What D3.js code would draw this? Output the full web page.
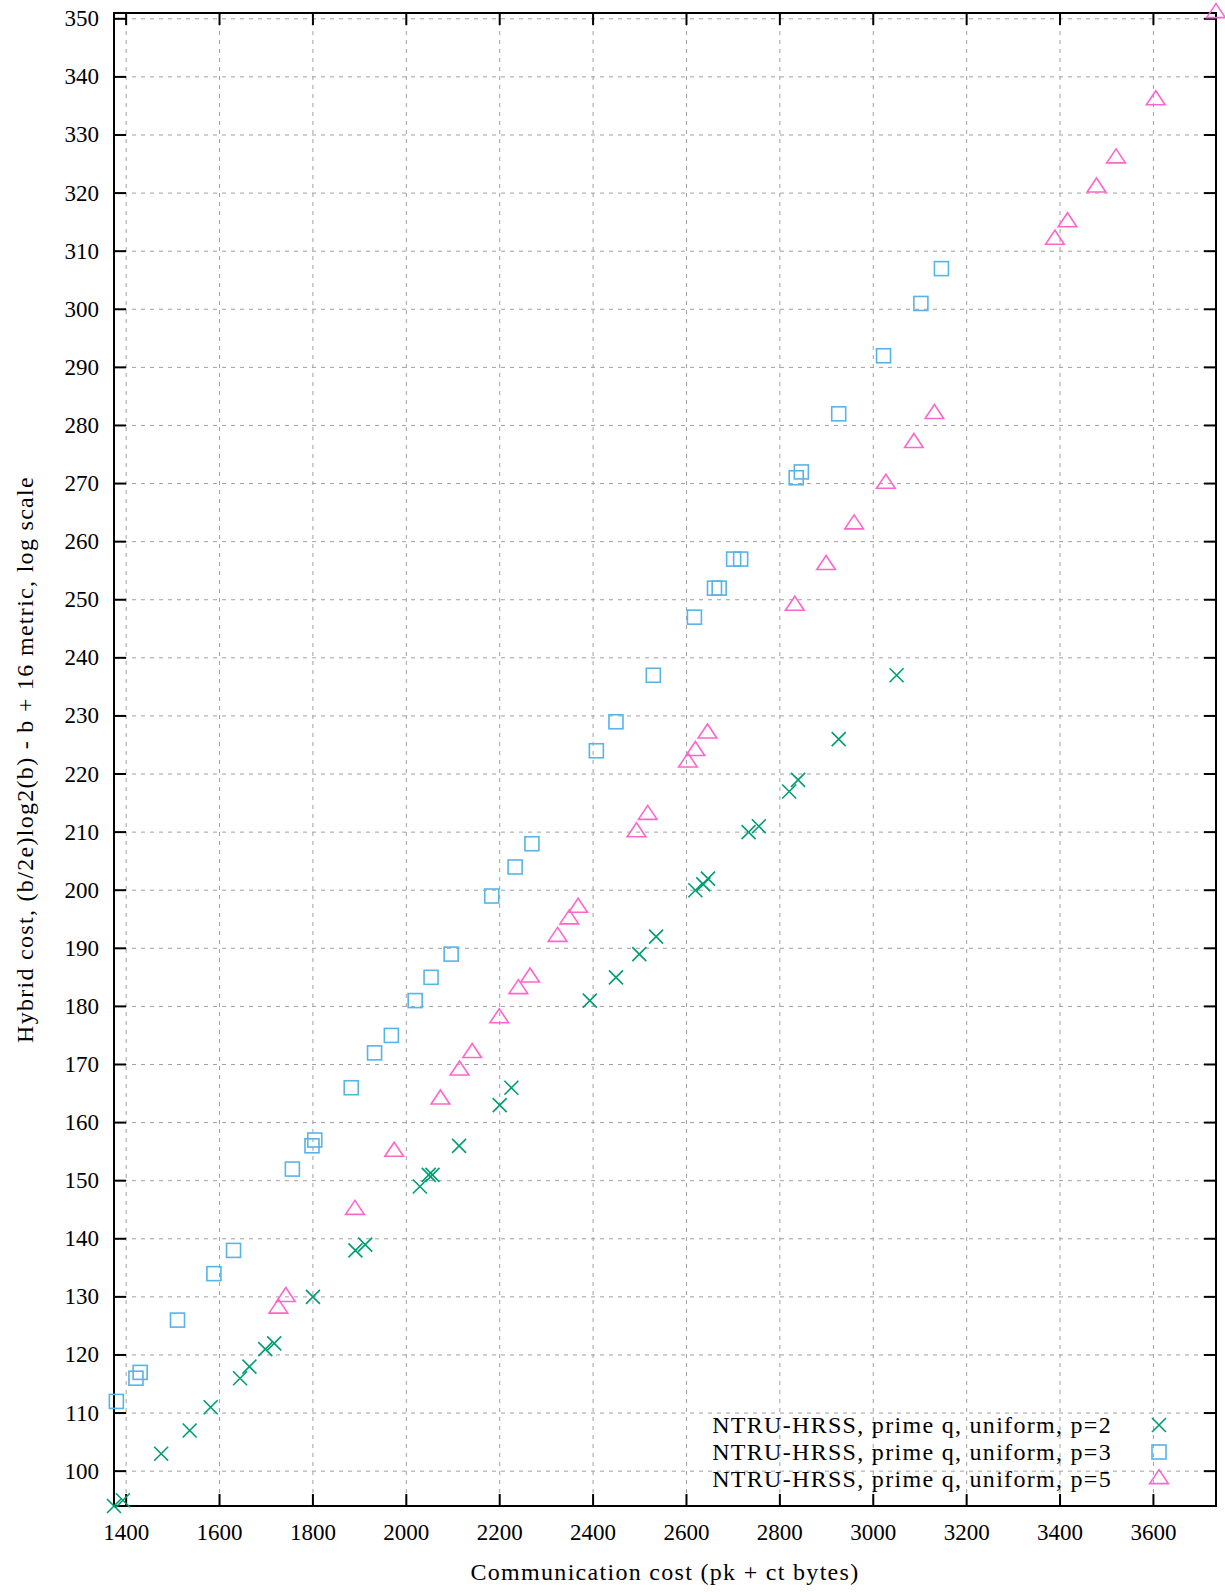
<!DOCTYPE html>
<html>
<head>
<meta charset="utf-8">
<title>Hybrid cost vs communication cost</title>
<script src="https://cdn.jsdelivr.net/npm/d3@7"></script>
<style>
    body { margin: 0; background: white; }
    svg { font-family: "Liberation Serif", "Times New Roman", serif; }
    .grid line { stroke: #a0a0a0; stroke-width: 1; stroke-dasharray: 4,5; }
    .border { fill: none; stroke: black; stroke-width: 2; }
    .tick-mark { stroke: black; stroke-width: 2; }
    .ticklabel { font-size: 23px; fill: black; }
    .title { font-size: 24px; fill: black; letter-spacing: 1.3px; }
</style>
</head>
<body>
<div id="chart"></div>
<script>
// p=2 series: communication cost (bytes), hybrid cost
var p2Cost   = [1374, 1393, 1475, 1536, 1581, 1644, 1664, 1698, 1717, 1800, 1891, 1912, 2029, 2048, 2056, 2113, 2200, 2225, 2393, 2449, 2499, 2535, 2619, 2636, 2646, 2733, 2755, 2820, 2839, 2926, 3050];
var p2Hybrid = [94, 95, 103, 107, 111, 116, 118, 121, 122, 130, 138, 139, 149, 151, 151, 156, 163, 166, 181, 185, 189, 192, 200, 201, 202, 210, 211, 217, 219, 226, 237];

// p=3 series
var p3Cost   = [1379, 1421, 1430, 1510, 1588, 1630, 1756, 1798, 1804, 1882, 1932, 1968, 2019, 2053, 2096, 2183, 2233, 2269, 2407, 2449, 2529, 2617, 2660, 2670, 2701, 2716, 2835, 2846, 2926, 3022, 3102, 3146];
var p3Hybrid = [112, 116, 117, 126, 134, 138, 152, 156, 157, 166, 172, 175, 181, 185, 189, 199, 204, 208, 224, 229, 237, 247, 252, 252, 257, 257, 271, 272, 282, 292, 301, 307];

// p=5 series
var p5Cost   = [1726, 1742, 1890, 1974, 2073, 2114, 2141, 2199, 2240, 2265, 2324, 2349, 2368, 2493, 2517, 2603, 2619, 2645, 2832, 2899, 2959, 3027, 3087, 3131, 3389, 3416, 3478, 3520, 3605, 3734];
var p5Hybrid = [128, 130, 145, 155, 164, 169, 172, 178, 183, 185, 192, 195, 197, 210, 213, 222, 224, 227, 249, 256, 263, 270, 277, 282, 312, 315, 321, 326, 336, 351];

var seriesNames = ['NTRU-HRSS, prime q, uniform, p=2',
                   'NTRU-HRSS, prime q, uniform, p=3',
                   'NTRU-HRSS, prime q, uniform, p=5'];

var xTicks = [1400, 1600, 1800, 2000, 2200, 2400, 2600, 2800, 3000, 3200, 3400, 3600];
var yTicks = [100, 110, 120, 130, 140, 150, 160, 170, 180, 190, 200, 210, 220, 230, 240,
              250, 260, 270, 280, 290, 300, 310, 320, 330, 340, 350];

var xLabel = 'Communication cost (pk + ct bytes)';
var yLabel = 'Hybrid cost, (b/2e)log2(b) - b + 16 metric, log scale';

var W = 1225, H = 1592;
var plotL = 114, plotR = 1216, plotT = 13, plotB = 1506;
var tickLen = 12;

var allCost = p2Cost.concat(p3Cost, p5Cost);
var allHybrid = p2Hybrid.concat(p3Hybrid, p5Hybrid);

var x = d3.scaleLinear().domain(d3.extent(allCost)).range([plotL, plotR]);
var y = d3.scaleLinear().domain(d3.extent(allHybrid)).range([plotB, plotT]);

var svg = d3.select('#chart').append('svg')
        .attr('width', W)
        .attr('height', H);

// grid
svg.append('g')
        .attr('class', 'grid')
        .selectAll('line')
        .data(xTicks)
    .enter().append('line')
        .attr('x1', function(d) { return x(d); })
        .attr('x2', function(d) { return x(d); })
        .attr('y1', plotT)
        .attr('y2', plotB);

svg.append('g')
        .attr('class', 'grid')
        .selectAll('line')
        .data(yTicks)
    .enter().append('line')
        .attr('x1', plotL)
        .attr('x2', plotR)
        .attr('y1', function(d) { return y(d); })
        .attr('y2', function(d) { return y(d); });

// tick marks on all four sides, pointing inward
var ticks = svg.append('g');
xTicks.forEach(function(d) {
    ticks.append('line').attr('class', 'tick-mark')
        .attr('x1', x(d)).attr('x2', x(d)).attr('y1', plotB).attr('y2', plotB - tickLen);
    ticks.append('line').attr('class', 'tick-mark')
        .attr('x1', x(d)).attr('x2', x(d)).attr('y1', plotT).attr('y2', plotT + tickLen);
});
yTicks.forEach(function(d) {
    ticks.append('line').attr('class', 'tick-mark')
        .attr('x1', plotL).attr('x2', plotL + tickLen).attr('y1', y(d)).attr('y2', y(d));
    ticks.append('line').attr('class', 'tick-mark')
        .attr('x1', plotR).attr('x2', plotR - tickLen).attr('y1', y(d)).attr('y2', y(d));
});

svg.append('rect')
        .attr('class', 'border')
        .attr('x', plotL)
        .attr('y', plotT)
        .attr('width', plotR - plotL)
        .attr('height', plotB - plotT);

// tick labels
svg.append('g').selectAll('text')
        .data(xTicks)
    .enter().append('text')
        .attr('class', 'ticklabel')
        .attr('x', function(d) { return x(d); })
        .attr('y', 1540)
        .attr('text-anchor', 'middle')
        .text(function(d) { return d; });

svg.append('g').selectAll('text')
        .data(yTicks)
    .enter().append('text')
        .attr('class', 'ticklabel')
        .attr('x', 99)
        .attr('y', function(d) { return y(d) + 7.5; })
        .attr('text-anchor', 'end')
        .text(function(d) { return d; });

// axis titles
svg.append('text')
        .attr('class', 'title')
        .attr('x', (plotL + plotR) / 2)
        .attr('y', 1580)
        .attr('text-anchor', 'middle')
        .text(xLabel);

svg.append('text')
        .attr('class', 'title')
        .attr('transform', 'translate(33,' + (plotT + plotB) / 2 + ') rotate(-90)')
        .attr('text-anchor', 'middle')
        .text(yLabel);

// point shapes
var h = 7;
function drawCross(g, px, py, color) {
    g.append('path')
        .attr('d', 'M' + (px - h) + ',' + (py - h) + 'L' + (px + h) + ',' + (py + h) +
                   'M' + (px - h) + ',' + (py + h) + 'L' + (px + h) + ',' + (py - h))
        .attr('stroke', color).attr('stroke-width', 1.6).attr('fill', 'none');
}
function drawSquare(g, px, py, color) {
    g.append('rect')
        .attr('x', px - h).attr('y', py - h).attr('width', 2 * h).attr('height', 2 * h)
        .attr('stroke', color).attr('stroke-width', 1.6).attr('fill', 'none');
}
function drawTriangle(g, px, py, color) {
    var a = 4 * h / 3, b = 2 * h / 3;
    g.append('path')
        .attr('d', 'M' + px + ',' + (py - a) + 'L' + (px - a) + ',' + (py + b) +
                   'L' + (px + a) + ',' + (py + b) + 'Z')
        .attr('stroke', color).attr('stroke-width', 1.6).attr('fill', 'none');
}

var series = [
    { cost: p2Cost, hybrid: p2Hybrid, color: '#009e73', draw: drawCross },
    { cost: p3Cost, hybrid: p3Hybrid, color: '#56b4e9', draw: drawSquare },
    { cost: p5Cost, hybrid: p5Hybrid, color: '#ff66cc', draw: drawTriangle }
];

var pts = svg.append('g');
series.forEach(function(s) {
    s.cost.forEach(function(c, i) {
        s.draw(pts, x(c), y(s.hybrid[i]), s.color);
    });
});

// legend
var legend = svg.append('g');
var rowY = [1425, 1452, 1479];
series.forEach(function(s, i) {
    legend.append('text')
        .attr('class', 'title')
        .attr('x', 1112)
        .attr('y', rowY[i] + 7.5)
        .attr('text-anchor', 'end')
        .text(seriesNames[i]);
    s.draw(legend, 1159, rowY[i], s.color);
});
</script>
</body>
</html>
